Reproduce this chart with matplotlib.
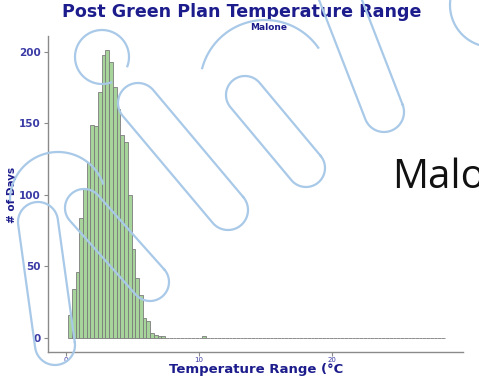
import matplotlib
matplotlib.use("Agg")
import matplotlib.pyplot as plt
import numpy as np
from matplotlib.lines import Line2D
from matplotlib import transforms

# daily temperature range counts, 0.28 degC bins starting at 0.3 degC
bin_width = 0.28
first_center = 0.3
main_counts = [16, 34, 46, 84, 104, 122, 149, 148, 172, 198, 201, 193,
               175, 160, 142, 137, 100, 62, 42, 30, 14, 12, 3, 2, 1, 1]
# sparse outlier bins: bin index -> count
outlier_bins = {36: 1}
n_bins = 101

y_ticks = [0, 50, 100, 150, 200]
x_ticks = [0, 10, 20]

navy = "#1c1c8c"
tick_blue = "#3b3ba6"
bar_fill = "#a6d49a"
bar_edge = "#7c7c7c"
mark_blue = "#a9c9e8"

W, H = 479, 381

counts = np.zeros(n_bins)
counts[:len(main_counts)] = main_counts
for idx, c in outlier_bins.items():
    counts[idx] = c
centers = first_center + bin_width * np.arange(n_bins)

fig = plt.figure(figsize=(W / 100, H / 100), dpi=100)
ax = fig.add_axes([48 / W, 1 - 352 / H, (463 - 48) / W, (352 - 36) / H])

ax.bar(centers, counts, width=bin_width, color=bar_fill, edgecolor=bar_edge,
       linewidth=0.6, align="center")

ax.set_xlim(-1.35, 29.8)
ax.set_ylim(-10, 211)
ax.set_xticks(x_ticks)
ax.set_yticks(y_ticks)
for side in ["top", "right"]:
    ax.spines[side].set_visible(False)
for side in ["left", "bottom"]:
    ax.spines[side].set_color("#8a8a8a")
    ax.spines[side].set_linewidth(1.0)
ax.tick_params(axis="both", colors="#8a8a8a", length=3, width=0.8)
ax.tick_params(axis="y", labelcolor=tick_blue, labelsize=7.5, pad=2)
ax.tick_params(axis="x", labelcolor=tick_blue, labelsize=5, pad=0.5)
for lab in ax.get_yticklabels():
    lab.set_fontweight("bold")

fig.text(242 / W, 1 - 12 / H, "Post Green Plan Temperature Range",
         ha="center", va="center", fontsize=12.6, fontweight="bold", color=navy)
fig.text(269 / W, 1 - 27 / H, "Malone", ha="center", va="center",
         fontsize=6.5, fontweight="bold", color=navy)
fig.text(12 / W, 1 - 195 / H, "# of Days", rotation=90, ha="center",
         va="center", fontsize=7.5, fontweight="bold", color=navy,
         family=["Liberation Sans Narrow", "DejaVu Sans"])
fig.text(256 / W, 1 - 370 / H, "Temperature Range (°C", ha="center",
         va="center", fontsize=9.5, fontweight="bold", color=navy)

fig.text(392 / W, 1 - 188 / H, "Malo", ha="left", va="baseline",
         fontsize=29, color="#111111", family=["Open Sans", "DejaVu Sans"])


# faint rounded watermark strokes, drawn in pixel coords from the top-left
def stadium(p0, p1, r, n=40):
    p0, p1 = np.array(p0, float), np.array(p1, float)
    d = p1 - p0
    ang = np.arctan2(d[1], d[0])
    a1 = np.linspace(ang - np.pi / 2, ang + np.pi / 2, n)
    a0 = np.linspace(ang + np.pi / 2, ang + 3 * np.pi / 2, n)
    xs = np.r_[p1[0] + r * np.cos(a1), p0[0] + r * np.cos(a0), p1[0] + r * np.cos(a1[0])]
    ys = np.r_[p1[1] + r * np.sin(a1), p0[1] + r * np.sin(a0), p1[1] + r * np.sin(a1[0])]
    return xs, ys


def arc(c, r, deg0, deg1, n=80):
    t = np.radians(np.linspace(deg0, deg1, n))
    return c[0] + r * np.cos(t), c[1] - r * np.sin(t)


strokes = [
    arc((102, 57), 27, -20, 290),
    stadium((138, 103), (228, 210), 20),
    arc((58, 200), 48, 180, 20),
    stadium((84, 208), (150, 282), 19),
    stadium((38, 222), (55, 345), 20),
    arc((265, 85), 65, 165, 35),
    stadium((245, 95), (306, 168), 19),
    stadium((325, -40), (384, 112), 20),
    arc((492, 5), 42, 100, 270),
]

to_display = transforms.Affine2D().scale(1, -1).translate(0, H)
for xs, ys in strokes:
    fig.add_artist(Line2D(xs, ys, color=mark_blue, linewidth=1.6,
                          transform=to_display, zorder=10))

fig.savefig("out.png", dpi=100)
